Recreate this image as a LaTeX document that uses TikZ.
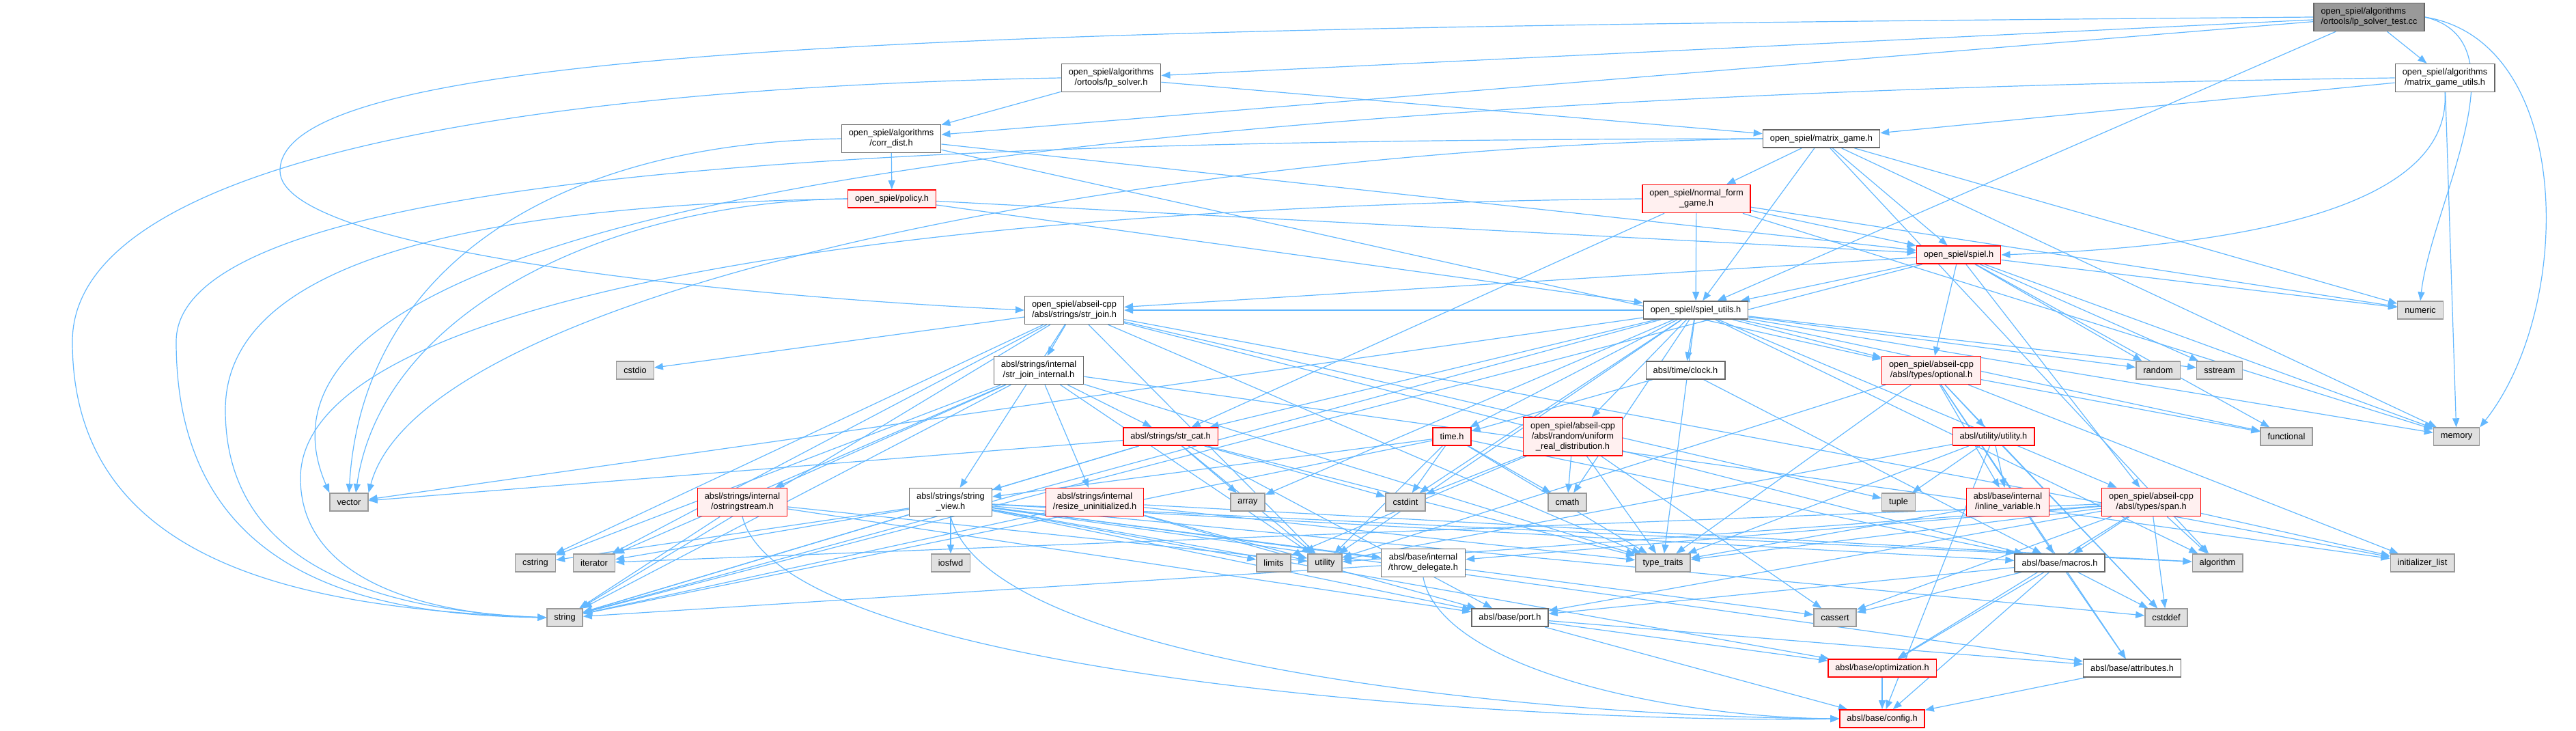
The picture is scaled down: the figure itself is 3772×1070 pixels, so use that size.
\documentclass[tikz,border=0pt]{standalone}
\usepackage{fontspec}
\setmainfont{Liberation Sans}
\usetikzlibrary{arrows.meta}
\definecolor{edgec}{HTML}{63B8FF}
\definecolor{nodegray}{HTML}{666666}
\definecolor{extgray}{HTML}{999999}
\definecolor{extfill}{HTML}{E0E0E0}
\definecolor{redfill}{HTML}{FFF0F0}
\definecolor{mainfill}{HTML}{999999}
\pgfdeclarelayer{bg}
\pgfsetlayers{bg,main}
\tikzset{
  box/.style={rectangle, line width=0.7pt, inner xsep=5.25pt, inner ysep=3.6pt,
    minimum height=13pt, align=center, text=black,
    font=\fontsize{6.4pt}{7.4pt}\selectfont},
  wnode/.style={box, draw=nodegray, fill=white},
  rnode/.style={box, draw=red, fill=redfill},
  gnode/.style={box, draw=extgray, fill=extfill},
  mnode/.style={box, draw=nodegray, fill=mainfill, align=left},
  e/.style={draw=edgec, line width=0.6pt, -{Triangle[length=6.5pt,width=5pt]}}
}
\begin{document}
\begin{tikzpicture}[x=0.5pt,y=0.5pt]
\useasboundingbox (0,0) rectangle (3772,-1070);
\node[mnode] (test) at (3469,-25) {open\_spiel/algorithms\\/ortools/lp\_solver\_test.cc};
\node[wnode] (lps) at (1627,-114) {open\_spiel/algorithms\\/ortools/lp\_solver.h};
\node[wnode] (mgu) at (3580,-114) {open\_spiel/algorithms\\/matrix\_game\_utils.h};
\node[wnode] (corr) at (1305,-203) {open\_spiel/algorithms\\/corr\_dist.h};
\node[wnode] (mg) at (2667,-203) {open\_spiel/matrix\_game.h};
\node[rnode] (policy) at (1306,-291) {open\_spiel/policy.h};
\node[rnode] (nfg) at (2484,-291) {open\_spiel/normal\_form\\\_game.h};
\node[rnode] (spiel) at (2868,-373) {open\_spiel/spiel.h};
\node[wnode] (strjoin) at (1573,-454) {open\_spiel/abseil-cpp\\/absl/strings/str\_join.h};
\node[wnode] (su) at (2483,-454) {open\_spiel/spiel\_utils.h};
\node[gnode] (numeric) at (3544,-454) {numeric};
\node[gnode] (cstdio) at (930,-542) {cstdio};
\node[wnode] (sji) at (1521,-542) {absl/strings/internal\\/str\_join\_internal.h};
\node[wnode] (clock) at (2468,-542) {absl/time/clock.h};
\node[rnode] (optional) at (2828,-542) {open\_spiel/abseil-cpp\\/absl/types/optional.h};
\node[gnode] (random) at (3160,-542) {random};
\node[gnode] (sstream) at (3250,-542) {sstream};
\node[rnode] (strcat) at (1714,-639) {absl/strings/str\_cat.h};
\node[rnode] (time) at (2126,-639) {time.h};
\node[rnode] (urd) at (2303,-639) {open\_spiel/abseil-cpp\\/absl/random/uniform\\\_real\_distribution.h};
\node[rnode] (util) at (2919,-639) {absl/utility/utility.h};
\node[gnode] (functional) at (3348,-639) {functional};
\node[gnode] (memory) at (3597,-639) {memory};
\node[gnode] (vector) at (511,-735) {vector};
\node[rnode] (ostr) at (1087,-735) {absl/strings/internal\\/ostringstream.h};
\node[wnode] (sv) at (1392,-735) {absl/strings/string\\\_view.h};
\node[rnode] (resize) at (1603,-735) {absl/strings/internal\\/resize\_uninitialized.h};
\node[gnode] (array) at (1827,-735) {array};
\node[gnode] (cstdint) at (2058,-735) {cstdint};
\node[gnode] (cmath) at (2295,-735) {cmath};
\node[gnode] (tuple) at (2780,-735) {tuple};
\node[rnode] (inlinevar) at (2940,-735) {absl/base/internal\\/inline\_variable.h};
\node[rnode] (span) at (3150,-735) {open\_spiel/abseil-cpp\\/absl/types/span.h};
\node[gnode] (cstring) at (784,-824) {cstring};
\node[gnode] (iterator) at (870,-824) {iterator};
\node[gnode] (iosfwd) at (1392,-824) {iosfwd};
\node[gnode] (limits) at (1865,-824) {limits};
\node[gnode] (utility) at (1940,-824) {utility};
\node[wnode] (throwd) at (2084,-824) {absl/base/internal\\/throw\_delegate.h};
\node[gnode] (typetraits) at (2435,-824) {type\_traits};
\node[wnode] (macros) at (3016,-824) {absl/base/macros.h};
\node[gnode] (algorithm) at (3247,-824) {algorithm};
\node[gnode] (initlist) at (3547,-824) {initializer\_list};
\node[gnode] (string) at (827,-904) {string};
\node[wnode] (port) at (2211,-904) {absl/base/port.h};
\node[gnode] (cassert) at (2687,-904) {cassert};
\node[gnode] (cstddef) at (3172,-904) {cstddef};
\node[rnode] (optim) at (2756,-978) {absl/base/optimization.h};
\node[wnode] (attrs) at (3122,-978) {absl/base/attributes.h};
\node[rnode] (config) at (2756,-1052) {absl/base/config.h};

\begin{pgfonlayer}{bg}
\foreach \a/\b in {test/lps, test/corr, test/su, test/mgu,
  lps/corr, lps/mg, mgu/mg, mgu/memory,
  corr/policy, corr/spiel, corr/optional,
  mg/nfg, mg/su, mg/spiel, mg/numeric, mg/memory, mg/algorithm,
  policy/spiel, policy/su,
  nfg/su, nfg/spiel, nfg/strcat, nfg/memory, nfg/numeric,
  spiel/su, spiel/strjoin, spiel/optional, spiel/span, spiel/functional, spiel/memory,
  spiel/random, spiel/sstream, spiel/numeric, spiel/string,
  su/strjoin, su/strcat, su/clock, su/time, su/urd, su/optional, su/span, su/cstdint,
  su/cmath, su/typetraits, su/utility, su/functional, su/memory, su/random, su/sstream,
  su/algorithm, su/array, su/vector, su/string,
  strjoin/cstdio, strjoin/sji, strjoin/sv, strjoin/cstring, strjoin/iterator, strjoin/string,
  strjoin/tuple, strjoin/typetraits, strjoin/utility, strjoin/initlist, strjoin/macros,
  sji/strcat, sji/ostr, sji/resize, sji/cstring, sji/iterator, sji/string, sji/utility,
  sji/typetraits, sji/initlist,
  clock/time, clock/macros,
  time/string, time/sv, time/cstdint, time/cmath, time/typetraits, time/utility, time/macros,
  urd/cassert, urd/cmath, urd/cstdint, urd/limits, urd/typetraits,
  strcat/array, strcat/cstdint, strcat/string, strcat/typetraits, strcat/utility,
  strcat/vector, strcat/port, strcat/sv,
  ostr/string, ostr/port, ostr/utility,
  sv/algorithm, sv/cassert, sv/cstddef, sv/cstring, sv/iosfwd, sv/iterator, sv/limits,
  sv/string, sv/attrs, sv/throwd, sv/macros, sv/optim, sv/port,
  resize/string, resize/algorithm, resize/typetraits, resize/utility, resize/port,
  span/algorithm, span/cassert, span/cstddef, span/initlist, span/iterator, span/typetraits,
  span/utility, span/throwd, span/macros, span/optim, span/port,
  optional/functional, optional/initlist, optional/typetraits, optional/utility,
  optional/attrs, optional/inlinevar, optional/util, optional/cstddef, optional/macros,
  util/cstddef, util/tuple, util/typetraits, util/utility, util/config, util/inlinevar,
  inlinevar/typetraits,
  macros/cassert, macros/cstddef, macros/attrs, macros/config, macros/optim, macros/port,
  port/attrs, port/config, port/optim,
  optim/config, attrs/config, throwd/string}
  \draw[e] (\a) -- (\b);

\draw[e] (test.west) .. controls (1500,-40) and (410,-60) .. (410,-250)
  .. controls (410,-360) and (1000,-430) .. (strjoin.west);
\draw[e] (test.east) .. controls (3700,-60) and (3560,-300) .. (numeric.north);
\draw[e] (test.east) .. controls (3770,-60) and (3770,-450) .. (memory.north east);
\draw[e] (mgu.south) .. controls (3590,-300) and (3300,-360) .. (spiel.east);
\draw[e] (lps.west) .. controls (700,-130) and (106,-250) .. (106,-500)
  .. controls (106,-830) and (450,-890) .. (string.west);
\draw[e] (mg.west) .. controls (1500,-205) and (258,-230) .. (258,-500)
  .. controls (258,-850) and (550,-900) .. (string.west);
\draw[e] (policy.west) .. controls (700,-300) and (330,-380) .. (330,-600)
  .. controls (330,-850) and (600,-895) .. (string.west);
\draw[e] (nfg.west) .. controls (1400,-300) and (440,-420) .. (440,-700)
  .. controls (440,-860) and (650,-900) .. (string.west);
\draw[e] (mgu.west) .. controls (1600,-140) and (300,-300) .. (vector.north west);
\draw[e] (corr.west) .. controls (800,-210) and (530,-400) .. (vector.north);
\draw[e] (policy.west) .. controls (900,-295) and (560,-450) .. ([xshift=5pt]vector.north);
\draw[e] (mg.west) .. controls (1700,-215) and (620,-420) .. (vector.north east);
\draw[e] (sv.south) .. controls (1450,-980) and (2300,-1050) .. (config.west);
\draw[e] (ostr.south) .. controls (1150,-1000) and (2300,-1060) .. (config.west);
\draw[e] (throwd.south) .. controls (2110,-980) and (2450,-1050) .. (config.west);
\end{pgfonlayer}
\end{tikzpicture}
\end{document}
